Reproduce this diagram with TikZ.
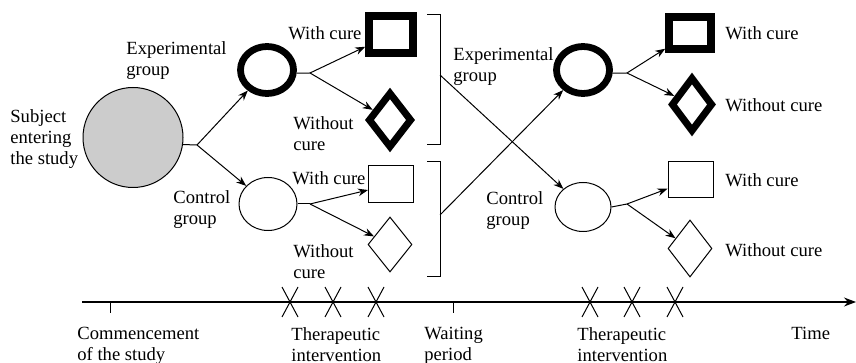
\documentclass[tikz,border=0pt]{standalone}
\usepackage{fontspec}
\setmainfont{Liberation Serif}
\usetikzlibrary{shapes.geometric,arrows.meta}
\begin{document}
\begin{tikzpicture}[x=0.5pt,y=-0.5pt,
  font=\fontsize{9.3}{10.5}\selectfont,
  lbl/.style={align=left,inner sep=0pt,anchor=west},
  tlbl/.style={align=left,inner sep=0pt,anchor=north west},
  conn/.style={line width=0.5pt,-{Stealth[length=5pt,width=3.8pt]}},
  stub/.style={line width=0.5pt},
  thickoval/.style={draw,ellipse,line width=3.4pt,minimum width=26.5pt,minimum height=23.5pt,inner sep=0pt,fill=white},
  thinoval/.style={draw,ellipse,line width=0.5pt,minimum width=29pt,minimum height=26.5pt,inner sep=0pt,fill=white},
  thickbox/.style={draw,rectangle,line width=3.8pt,minimum width=22pt,minimum height=18.5pt,inner sep=0pt,fill=white},
  thinbox/.style={draw,rectangle,line width=0.5pt,minimum width=22.5pt,minimum height=18.5pt,inner sep=0pt,fill=white},
  thickdia/.style={draw,diamond,line width=3.5pt,minimum width=22pt,minimum height=28pt,inner sep=0pt,fill=white},
  thindia/.style={draw,diamond,line width=0.5pt,minimum width=22pt,minimum height=27.5pt,inner sep=0pt,fill=white},
  xmark/.style={line width=0.5pt},
  bracket/.style={line width=0.5pt}
]
\useasboundingbox (0,0) rectangle (856,363);

% ---- left half ----
\node[draw,circle,line width=0.5pt,fill=gray!40,minimum size=50pt,inner sep=0pt] (S) at (133,137.5) {};
\coordinate (b1) at (197,145);
\node[thickoval] (E1) at (267,70) {};
\node[thinoval] (C1) at (268,204) {};
\coordinate (e1b) at (310,73);
\coordinate (c1b) at (310,204);
\node[thickbox] (Q1) at (391,34.5) {};
\node[thickdia] (D1) at (390,120) {};
\node[thinbox] (Q2) at (391,184.5) {};
\node[thindia] (D2) at (390,244.5) {};

\draw[stub] (S.-8.6) -- (b1);
\draw[conn] (b1) -- (E1);
\draw[conn] (b1) -- (C1);
\draw[stub] (E1.-6) -- (e1b);
\draw[conn] (e1b) -- (Q1);
\draw[conn] (e1b) -- (D1);
\draw[stub] (C1.east) -- (c1b);
\draw[conn] (c1b) -- (Q2);
\draw[conn] (c1b) -- (D2);

\node[lbl] (tS) at (10,139) {Subject\\entering\\the study};
\node[lbl] (tE1) at (126,61) {Experimental\\group};
\node[lbl] (tW1) at (288,33) {With cure};
\node[lbl] (tN1) at (293,134) {Without\\cure};
\node[lbl] (tC1) at (173,210) {Control\\group};
\node[lbl] (tW2) at (292,178) {With cure};
\node[lbl] (tN2) at (293,262) {Without\\cure};

% ---- brackets ----
\draw[bracket] (427,15) -- (440,15) -- (440,145) -- (427,145);
\draw[bracket] (427,162) -- (440,162) -- (440,276) -- (427,276);
\coordinate (m1) at (440,75);
\coordinate (m2) at (440,215);

% ---- right half ----
\node[thickoval] (E2) at (583,70) {};
\node[thinoval,minimum width=28pt,minimum height=24.5pt] (C2) at (583,207) {};
\coordinate (e2b) at (627,73);
\coordinate (c2b) at (627,204);
\node[thickbox,minimum width=21pt,minimum height=16pt] (Q3) at (690,33) {};
\node[thickdia,minimum width=21pt,minimum height=27.5pt] (D3) at (692,104.5) {};
\node[thinbox,minimum width=22.5pt,minimum height=18pt] (Q4) at (690.5,180) {};
\node[thindia,minimum width=22pt,minimum height=28.5pt] (D4) at (690,248.5) {};

\draw[conn] (m1) -- (C2);
\draw[conn] (m2) -- (E2);
\draw[stub] (E2.-6) -- (e2b);
\draw[conn] (e2b) -- (Q3);
\draw[conn] (e2b) -- (D3);
\draw[stub] (C2.east) -- (c2b);
\draw[conn] (c2b) -- (Q4);
\draw[conn] (c2b) -- (D4);

\node[lbl] (tE2) at (453,67) {Experimental\\group};
\node[lbl] (tC2) at (486,211) {Control\\group};
\node[lbl] (tW3) at (725,33) {With cure};
\node[lbl] (tN3) at (725,105) {Without cure};
\node[lbl] (tW4) at (725,180) {With cure};
\node[lbl] (tN4) at (725,250) {Without cure};

% ---- time axis ----
\coordinate (ax0) at (82,302);
\coordinate (ax1) at (856,302);
\draw[line width=0.6pt,-{Stealth[length=6pt,width=4.5pt]}] (ax0) -- (ax1);
\draw[line width=0.5pt] (110,302) -- (110,313);
\draw[line width=0.5pt] (453,302) -- (453,313);
\foreach \xx in {290,333,376,590,632,675}{
  \draw[xmark] (\xx-8,287) -- (\xx+8,317);
  \draw[xmark] (\xx+8,287) -- (\xx-8,317);
}
\node[tlbl] (tL1) at (77,327) {Commencement\\of the study};
\node[tlbl] (tL2) at (291,327) {Therapeutic\\intervention};
\node[tlbl] (tL3) at (424,327) {Waiting\\period};
\node[tlbl] (tL4) at (577,327) {Therapeutic\\intervention};
\node[tlbl] (tL5) at (791,327) {Time};
\end{tikzpicture}
\end{document}
